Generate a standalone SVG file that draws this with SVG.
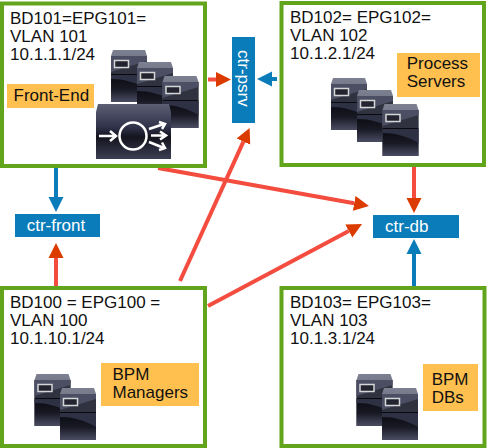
<svg xmlns="http://www.w3.org/2000/svg" xmlns:xlink="http://www.w3.org/1999/xlink" width="487" height="448" viewBox="0 0 487 448">
<style>
text{font-family:"Liberation Sans",Arial,sans-serif;font-size:17px;fill:#111}
.box{fill:#fff;stroke:#62A51C;stroke-width:4}
.tag{fill:#FFC050}
.ctr{fill:#0A7CBA}
.ctr-t{fill:#fff}
.r{stroke:#F44C3E;stroke-width:4;fill:none;marker-end:url(#hr)}
.b{stroke:#0A7CBA;stroke-width:4;fill:none;marker-end:url(#hb)}
</style>
<defs>
<marker id="hr" markerUnits="userSpaceOnUse" markerWidth="16" markerHeight="16" refX="0" refY="8" orient="auto"><path d="M0 0.5L15 8L0 15.500Z" fill="#DC3B00"/></marker>
<marker id="hb" markerUnits="userSpaceOnUse" markerWidth="16" markerHeight="16" refX="0" refY="8" orient="auto"><path d="M0 0.5L15 8L0 15.500Z" fill="#0A7CBA"/></marker>
<linearGradient id="gt" x1="0" y1="0" x2="0" y2="1"><stop offset="0" stop-color="#7c8090"/><stop offset="1" stop-color="#4a4d60"/></linearGradient>
<linearGradient id="gb" x1="0" y1="0" x2="0" y2="1"><stop offset="0" stop-color="#08080e"/><stop offset="0.55" stop-color="#1a1a26"/><stop offset="1" stop-color="#4a4c62"/></linearGradient>
<linearGradient id="gl" x1="0" y1="0" x2="0" y2="1"><stop offset="0" stop-color="#5c5f74"/><stop offset="0.42" stop-color="#30324a"/><stop offset="0.6" stop-color="#14141e"/><stop offset="1" stop-color="#3c3e54"/></linearGradient>
<g id="srv">
<path d="M2 0H34L36 6V52H0V6Z" fill="url(#gt)"/>
<path d="M0 6H36V24H0Z" fill="#30323f"/>
<path d="M0 6H36V11L0 22Z" fill="#4c4f63"/>
<path d="M0 24H36V52H0Z" fill="url(#gb)"/>
<path d="M0 25H36V39C24 32 12 29 0 29Z" fill="#2e3044"/>
<rect x="3.500" y="10.500" width="14" height="7" fill="#23242f" stroke="#d4d6d8" stroke-width="1.500"/>
</g>
</defs>
<g id="connectors">
<path class="r" d="M208 79.500H216"/>
<path class="b" d="M277 79H272"/>
<path class="b" d="M56 166V197"/>
<path class="r" d="M56 287V258"/>
<path class="r" d="M414 166V198"/>
<path class="b" d="M414 286V254"/>
<path class="r" d="M158 168L354.200 203.300"/>
<path class="r" d="M180 281L243.400 141.600"/>
<path class="r" d="M208 306L348.800 231"/>
</g>
<g id="bd101">
<rect class="box" x="2" y="3.500" width="203" height="162.500"/>
<text x="10" y="23.500">BD101=EPG101=</text>
<text x="10" y="42">VLAN 101</text>
<text x="10" y="60">10.1.1.1/24</text>
<rect class="tag" x="7" y="84" width="87" height="24"/>
<text x="13.500" y="100.700">Front-End</text>
<use xlink:href="#srv" href="#srv" x="111" y="50"/>
<use xlink:href="#srv" href="#srv" x="137" y="62"/>
<use xlink:href="#srv" href="#srv" x="162.500" y="76"/>
<path d="M98 104H169L171 112V159H96V112Z" fill="url(#gl)"/>
<g fill="none" stroke="#fff" stroke-width="2.500">
<circle cx="133" cy="136" r="13.500"/>
<path d="M99 136H115M110 131L116 136L110 141"/>
<path d="M149 129L164 124M159 122L165 124L162 129M151 135.500H165M160 131.500L166 135.500L160 139.500M149 142L164 148M162 142.500L165 148L159 150"/>
</g>
</g>
<g id="bd102">
<rect class="box" x="281.500" y="3" width="202.500" height="162"/>
<text x="290" y="23">BD102= EPG102=</text>
<text x="290" y="41">VLAN 102</text>
<text x="290" y="59">10.1.2.1/24</text>
<use xlink:href="#srv" href="#srv" x="331" y="78"/>
<use xlink:href="#srv" href="#srv" x="357" y="90"/>
<use xlink:href="#srv" href="#srv" x="382.500" y="104"/>
<rect class="tag" x="397" y="53" width="83" height="44"/>
<text x="406.700" y="69">Process</text>
<text x="406.700" y="87">Servers</text>
</g>
<g id="bd100">
<rect class="box" x="2" y="288" width="203" height="158"/>
<text x="10" y="308">BD100 = EPG100 =</text>
<text x="10" y="326">VLAN 100</text>
<text x="10" y="344">10.1.10.1/24</text>
<use xlink:href="#srv" href="#srv" x="34.500" y="374"/>
<use xlink:href="#srv" href="#srv" x="60" y="388"/>
<rect class="tag" x="101" y="363" width="98" height="43"/>
<text x="112.500" y="380">BPM</text>
<text x="112.500" y="398">Managers</text>
</g>
<g id="bd103">
<rect class="box" x="281.500" y="288" width="203" height="158"/>
<text x="290" y="308">BD103= EPG103=</text>
<text x="290" y="326">VLAN 103</text>
<text x="290" y="344">10.1.3.1/24</text>
<use xlink:href="#srv" href="#srv" x="356.500" y="374"/>
<use xlink:href="#srv" href="#srv" x="382" y="388"/>
<rect class="tag" x="423" y="364" width="55" height="47"/>
<text x="431.700" y="385">BPM</text>
<text x="431.700" y="403">DBs</text>
</g>
<g id="ctr-psrv">
<rect class="ctr" x="232" y="37" width="23" height="86"/>
<text class="ctr-t" transform="translate(237.500 50) rotate(90)">ctr-psrv</text>
</g>
<g id="ctr-front">
<rect class="ctr" x="15" y="214" width="85" height="23"/>
<text class="ctr-t" x="26.700" y="231">ctr-front</text>
</g>
<g id="ctr-db">
<rect class="ctr" x="373" y="215" width="86" height="23"/>
<text class="ctr-t" x="385" y="232">ctr-db</text>
</g>
</svg>
